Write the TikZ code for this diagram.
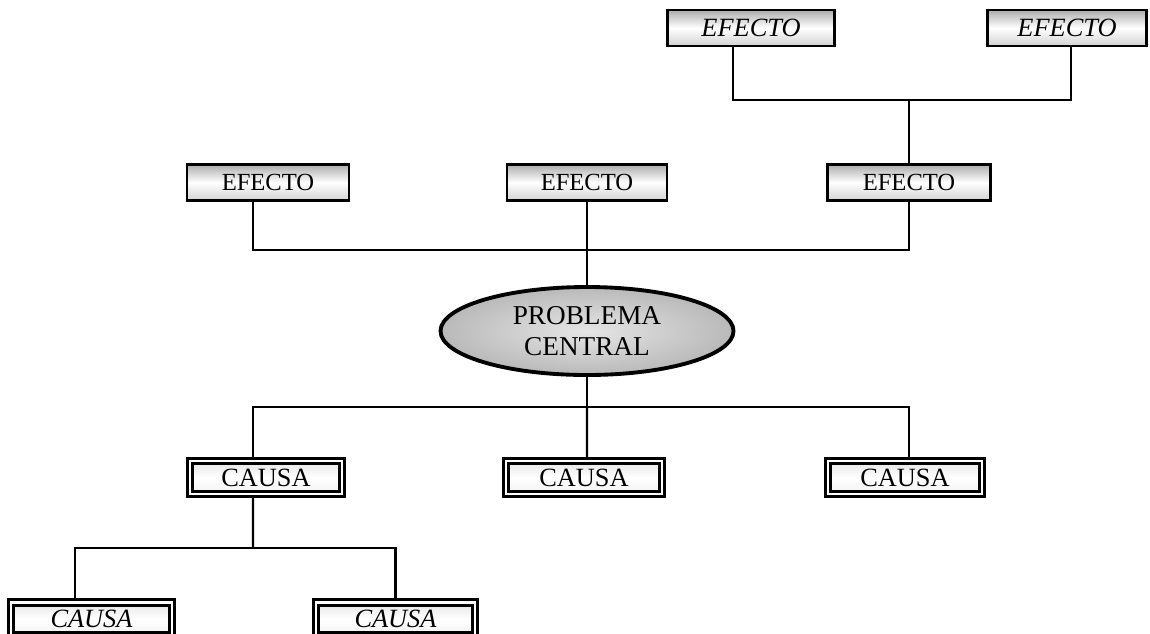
\documentclass[tikz,border=0pt]{standalone}
\usepackage{fontspec}
\setmainfont{Liberation Serif}
\usetikzlibrary{
  shapes.geometric,
  positioning
}

\begin{document}
\begin{tikzpicture}[x=1cm,y=1cm]
\useasboundingbox (0,0) rectangle (23,-12.66);
\tikzset{
  efbox/.style={rectangle,draw=black,line width=1.6pt,minimum height=0.72cm,
    inner sep=0pt,top color=gray!65,bottom color=gray!35,middle color=white,
    font=\fontsize{14}{16}\selectfont},
  cabox/.style={rectangle,draw=black,line width=1.8pt,double=white,double distance=1.4pt,
    minimum height=0.66cm,inner sep=0pt,top color=gray!20,bottom color=gray!10,middle color=white,
    font=\fontsize{15}{17}\selectfont},
  link/.style={draw=black,line width=1.2pt}
}

% efectos
\node[efbox,minimum width=3.34cm,font=\fontsize{15}{17}\selectfont\itshape] (e1) at (15.02,-0.56) {EFECTO};
\node[efbox,minimum width=3.18cm,font=\fontsize{15}{17}\selectfont\itshape] (e2) at (21.34,-0.56) {EFECTO};
\node[efbox,minimum width=3.24cm] (m1) at (5.36,-3.65) {EFECTO};
\node[efbox,minimum width=3.20cm] (m2) at (11.74,-3.65) {EFECTO};
\node[efbox,minimum width=3.26cm] (m3) at (18.18,-3.65) {EFECTO};

% problema
\node[ellipse,draw=black,line width=2.2pt,minimum width=5.86cm,minimum height=1.76cm,
      inner color=gray!20,outer color=gray!55,align=center,
      font=\fontsize{15.5}{17.5}\selectfont] (pc) at (11.74,-6.62) {PROBLEMA\\CENTRAL};

% causas
\node[cabox,minimum width=3.04cm] (c1) at (5.32,-9.55) {CAUSA};
\node[cabox,minimum width=3.12cm] (c2) at (11.68,-9.55) {CAUSA};
\node[cabox,minimum width=3.08cm] (c3) at (18.10,-9.55) {CAUSA};
\node[cabox,minimum width=3.22cm,font=\fontsize{15}{17}\selectfont\itshape] (b1) at (1.83,-12.38) {CAUSA};
\node[cabox,minimum width=3.18cm,font=\fontsize{15}{17}\selectfont\itshape] (b2) at (7.91,-12.38) {CAUSA};

% junctions
\coordinate (jtop) at (18.18,-2.0);
\coordinate (jmid) at (11.74,-5.0);
\coordinate (jlow) at (11.74,-8.14);
\coordinate (jbot) at (5.06,-10.96);

\begin{scope}[every path/.style={link}]
    \path ([xshift=-0.36cm]e1.south) edge[to path={|- (jtop) -| (\tikztotarget)}] ([xshift=0.08cm]e2.south);
    \path (jtop) edge (m3.north);
    \path ([xshift=-0.3cm]m1.south) edge[to path={|- (jmid) -| (\tikztotarget)}] (m3.south);
    \path (m2.south) edge (pc.north);
    \path (pc.south) edge (jlow);
    \path ([xshift=-0.26cm]c1.north) edge[to path={|- (jlow) -| (\tikztotarget)}] ([xshift=0.08cm]c3.north);
    \path (jlow) edge ([xshift=0.06cm]c2.north);
    \path ([xshift=-0.26cm]c1.south) edge (jbot);
    \path ([xshift=-0.33cm]b1.north) edge[to path={|- (jbot) -| (\tikztotarget)}] (b2.north);
\end{scope}
\end{tikzpicture}
\end{document}
